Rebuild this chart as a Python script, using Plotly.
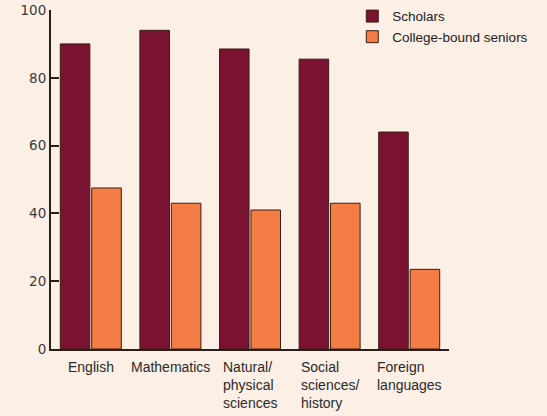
import plotly.graph_objects as go

# Share of students who took the subject (%)
categories = ["English", "Mathematics", "Natural/ physical sciences",
              "Social sciences/ history", "Foreign languages"]
axis_labels = ["English", "Mathematics", "Natural/<br>physical<br>sciences",
               "Social<br>sciences/<br>history", "Foreign<br>languages"]
scholars = [90, 94, 88.5, 85.5, 64]
college_bound = [47.5, 43, 41, 43, 23.5]
y_ticks = [0, 20, 40, 60, 80, 100]

BG = "#fcefe5"
INK = "#2b1d17"
MAROON = "#7a1332"
ORANGE = "#f37d45"
OUTLINE = "#3a1f14"

x_pos = list(range(len(categories)))

fig = go.Figure()
fig.add_trace(go.Bar(x=x_pos, y=scholars, name="Scholars",
                     marker=dict(color=MAROON, line=dict(color=OUTLINE, width=1))))
fig.add_trace(go.Bar(x=x_pos, y=college_bound, name="College-bound seniors",
                     marker=dict(color=ORANGE, line=dict(color=OUTLINE, width=1))))

# Category labels beneath the axis, lines left-aligned within each block
for xi, lab in zip(x_pos, axis_labels):
    fig.add_annotation(x=xi, y=0, xref="x", yref="y", text=lab, showarrow=False,
                       xanchor="center", yanchor="top", yshift=-8, align="left",
                       font=dict(family="Liberation Sans", size=14, color="#2a2a2a"))

fig.update_layout(
    width=547, height=416,
    margin=dict(l=51, r=98, t=10, b=67, autoexpand=False),
    paper_bgcolor=BG, plot_bgcolor=BG,
    barmode="group", bargap=0.21, bargroupgap=0.06,
    showlegend=True,
    legend=dict(x=0.757, y=1.027, xanchor="left", yanchor="top",
                bgcolor="rgba(0,0,0,0)", tracegroupgap=0,
                font=dict(family="Liberation Sans", size=13.5, color="#222222")),
    xaxis=dict(range=[-0.5, 4.5], showgrid=False, zeroline=False,
               showline=True, linecolor=INK, linewidth=2,
               tickmode="array", tickvals=[-0.5, 4.5], ticks="inside",
               ticklen=5, tickwidth=2, tickcolor=INK, showticklabels=False),
    yaxis=dict(range=[0, 100], showgrid=False, zeroline=False,
               showline=True, linecolor=INK, linewidth=2,
               tickmode="array", tickvals=y_ticks, ticks="inside",
               ticklen=8, tickwidth=2, tickcolor=INK,
               tickfont=dict(family="DejaVu Sans", size=13.5, color="#3a3a3a")),
)

fig.write_html("out.html")
